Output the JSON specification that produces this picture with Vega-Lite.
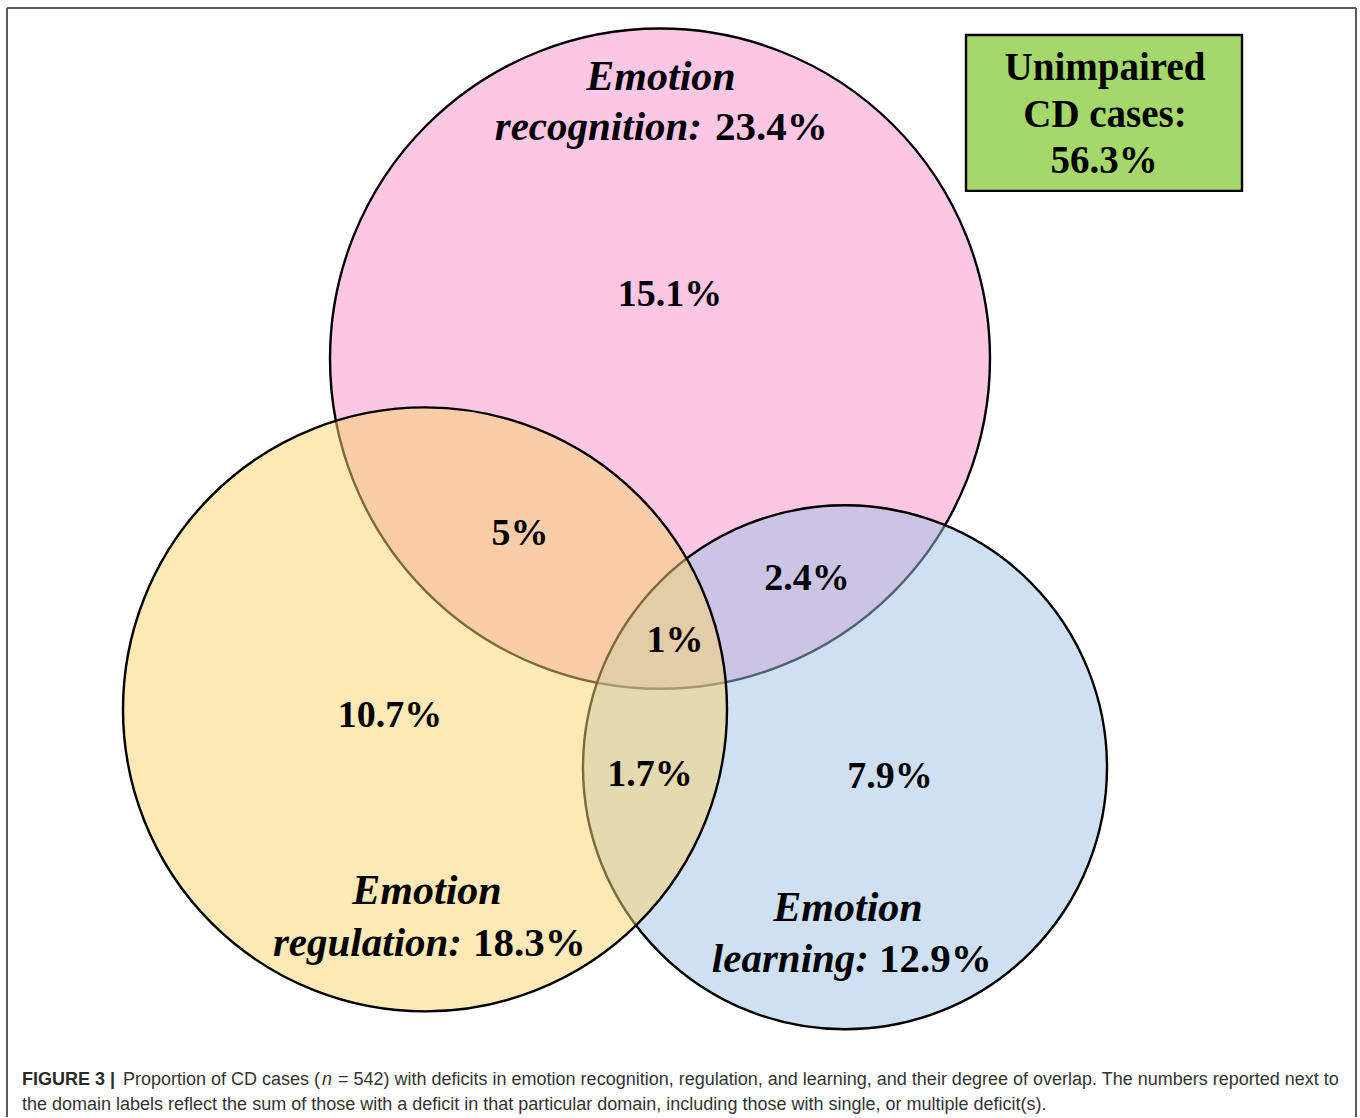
{
  "$schema": "https://vega.github.io/schema/vega-lite/v6.json",
  "width": 1360,
  "height": 1118,
  "autosize": {"type": "fit", "contains": "padding"},
  "padding": 0,
  "background": "white",
  "config": {"view": {"stroke": null}},
  "datasets": {
    "circles": [
      {"set": "recognition", "cx": 660, "cy": 359, "r": 330},
      {"set": "learning", "cx": 845, "cy": 768, "r": 262},
      {"set": "regulation", "cx": 425, "cy": 710, "r": 302}
    ],
    "box": [{"x": 966, "x2": 1242, "y": 35, "y2": 191}],
    "frame": [
      {"x": 7, "x2": 1356, "y": 8, "y2": 8},
      {"x": 7, "x2": 7, "y": 8, "y2": 1118},
      {"x": 1356, "x2": 1356, "y": 8, "y2": 1118}
    ],
    "numbers": [
      {"x": 670, "y": 306, "text": "15.1%"},
      {"x": 520, "y": 545, "text": "5%"},
      {"x": 807, "y": 591, "text": "2.4%"},
      {"x": 675, "y": 653, "text": "1%"},
      {"x": 390, "y": 728, "text": "10.7%"},
      {"x": 650, "y": 787, "text": "1.7%"},
      {"x": 890, "y": 789, "text": "7.9%"}
    ],
    "emotion": [
      {"x": 661, "y": 90, "text": "Emotion"},
      {"x": 427, "y": 905, "text": "Emotion"},
      {"x": 848, "y": 922, "text": "Emotion"}
    ],
    "domains": [
      {"x": 702, "y": 140, "text": "recognition:"},
      {"x": 462, "y": 957, "text": "regulation:"},
      {"x": 869, "y": 973, "text": "learning:"}
    ],
    "totals": [
      {"x": 715, "y": 140, "text": "23.4%"},
      {"x": 473, "y": 957, "text": "18.3%"},
      {"x": 879, "y": 973, "text": "12.9%"}
    ],
    "boxtext": [
      {"x": 1105, "y": 80, "text": "Unimpaired"},
      {"x": 1105, "y": 127, "text": "CD cases:"},
      {"x": 1104, "y": 173, "text": "56.3%"}
    ],
    "capbold": [{"x": 22, "y": 1086, "text": "FIGURE 3 |"}],
    "capital": [{"x": 322, "y": 1086, "text": "n"}],
    "capreg": [
      {"x": 123, "y": 1086, "text": "Proportion of CD cases ("},
      {"x": 338, "y": 1086, "text": "= 542) with deficits in emotion recognition, regulation, and learning, and their degree of overlap. The numbers reported next to"},
      {"x": 22, "y": 1111, "text": "the domain labels reflect the sum of those with a deficit in that particular domain, including those with single, or multiple deficit(s)."}
    ]
  },
  "layer": [
    {
      "data": {"name": "frame"},
      "mark": {"type": "rule", "stroke": "#5a5a5a", "strokeWidth": 2},
      "encoding": {
        "x": {"field": "x", "type": "quantitative", "scale": {"domain": [0, 1360], "nice": false, "zero": false}, "axis": null},
        "x2": {"field": "x2"},
        "y": {"field": "y", "type": "quantitative", "scale": {"domain": [0, 1118], "nice": false, "zero": false, "reverse": true}, "axis": null},
        "y2": {"field": "y2"}
      }
    },
    {
      "data": {"name": "circles"},
      "mark": {"type": "point", "shape": "circle", "filled": true, "fillOpacity": 0.5, "stroke": "black", "strokeWidth": 2.4, "strokeOpacity": 1},
      "encoding": {
        "x": {"field": "cx", "type": "quantitative"},
        "y": {"field": "cy", "type": "quantitative"},
        "size": {"field": "r", "type": "quantitative", "scale": {"type": "pow", "exponent": 2, "domain": [0, 1000], "range": [0, 4000000]}, "legend": null},
        "fill": {"field": "set", "type": "nominal", "scale": {"domain": ["recognition", "learning", "regulation"], "range": ["#F78FCB", "#9DC2E6", "#F9D36B"]}, "legend": null},
        "order": {"value": 0}
      }
    },
    {
      "data": {"name": "box"},
      "mark": {"type": "rect", "fill": "#A4D86A", "stroke": "black", "strokeWidth": 2.4},
      "encoding": {
        "x": {"field": "x", "type": "quantitative"},
        "x2": {"field": "x2"},
        "y": {"field": "y", "type": "quantitative"},
        "y2": {"field": "y2"}
      }
    },
    {
      "data": {"name": "numbers"},
      "mark": {"type": "text", "font": "Liberation Serif", "fontWeight": "bold", "fontSize": 38, "align": "center", "baseline": "alphabetic", "color": "black"},
      "encoding": {
        "x": {"field": "x", "type": "quantitative"},
        "y": {"field": "y", "type": "quantitative"},
        "text": {"field": "text"}
      }
    },
    {
      "data": {"name": "emotion"},
      "mark": {"type": "text", "font": "Liberation Serif", "fontWeight": "bold", "fontStyle": "italic", "fontSize": 42, "align": "center", "baseline": "alphabetic", "color": "black"},
      "encoding": {
        "x": {"field": "x", "type": "quantitative"},
        "y": {"field": "y", "type": "quantitative"},
        "text": {"field": "text"}
      }
    },
    {
      "data": {"name": "domains"},
      "mark": {"type": "text", "font": "Liberation Serif", "fontWeight": "bold", "fontStyle": "italic", "fontSize": 41, "align": "right", "baseline": "alphabetic", "color": "black"},
      "encoding": {
        "x": {"field": "x", "type": "quantitative"},
        "y": {"field": "y", "type": "quantitative"},
        "text": {"field": "text"}
      }
    },
    {
      "data": {"name": "totals"},
      "mark": {"type": "text", "font": "Liberation Serif", "fontWeight": "bold", "fontSize": 41, "align": "left", "baseline": "alphabetic", "color": "black"},
      "encoding": {
        "x": {"field": "x", "type": "quantitative"},
        "y": {"field": "y", "type": "quantitative"},
        "text": {"field": "text"}
      }
    },
    {
      "data": {"name": "boxtext"},
      "mark": {"type": "text", "font": "Liberation Serif", "fontWeight": "bold", "fontSize": 39, "align": "center", "baseline": "alphabetic", "color": "black"},
      "encoding": {
        "x": {"field": "x", "type": "quantitative"},
        "y": {"field": "y", "type": "quantitative"},
        "text": {"field": "text"}
      }
    },
    {
      "data": {"name": "capbold"},
      "mark": {"type": "text", "font": "Liberation Sans", "fontWeight": "bold", "fontSize": 18, "align": "left", "baseline": "alphabetic", "color": "#2a2a2a"},
      "encoding": {
        "x": {"field": "x", "type": "quantitative"},
        "y": {"field": "y", "type": "quantitative"},
        "text": {"field": "text"}
      }
    },
    {
      "data": {"name": "capital"},
      "mark": {"type": "text", "font": "Liberation Sans", "fontStyle": "italic", "fontSize": 18, "align": "left", "baseline": "alphabetic", "color": "#333333"},
      "encoding": {
        "x": {"field": "x", "type": "quantitative"},
        "y": {"field": "y", "type": "quantitative"},
        "text": {"field": "text"}
      }
    },
    {
      "data": {"name": "capreg"},
      "mark": {"type": "text", "font": "Liberation Sans", "fontSize": 18, "align": "left", "baseline": "alphabetic", "color": "#333333"},
      "encoding": {
        "x": {"field": "x", "type": "quantitative"},
        "y": {"field": "y", "type": "quantitative"},
        "text": {"field": "text"}
      }
    }
  ]
}
